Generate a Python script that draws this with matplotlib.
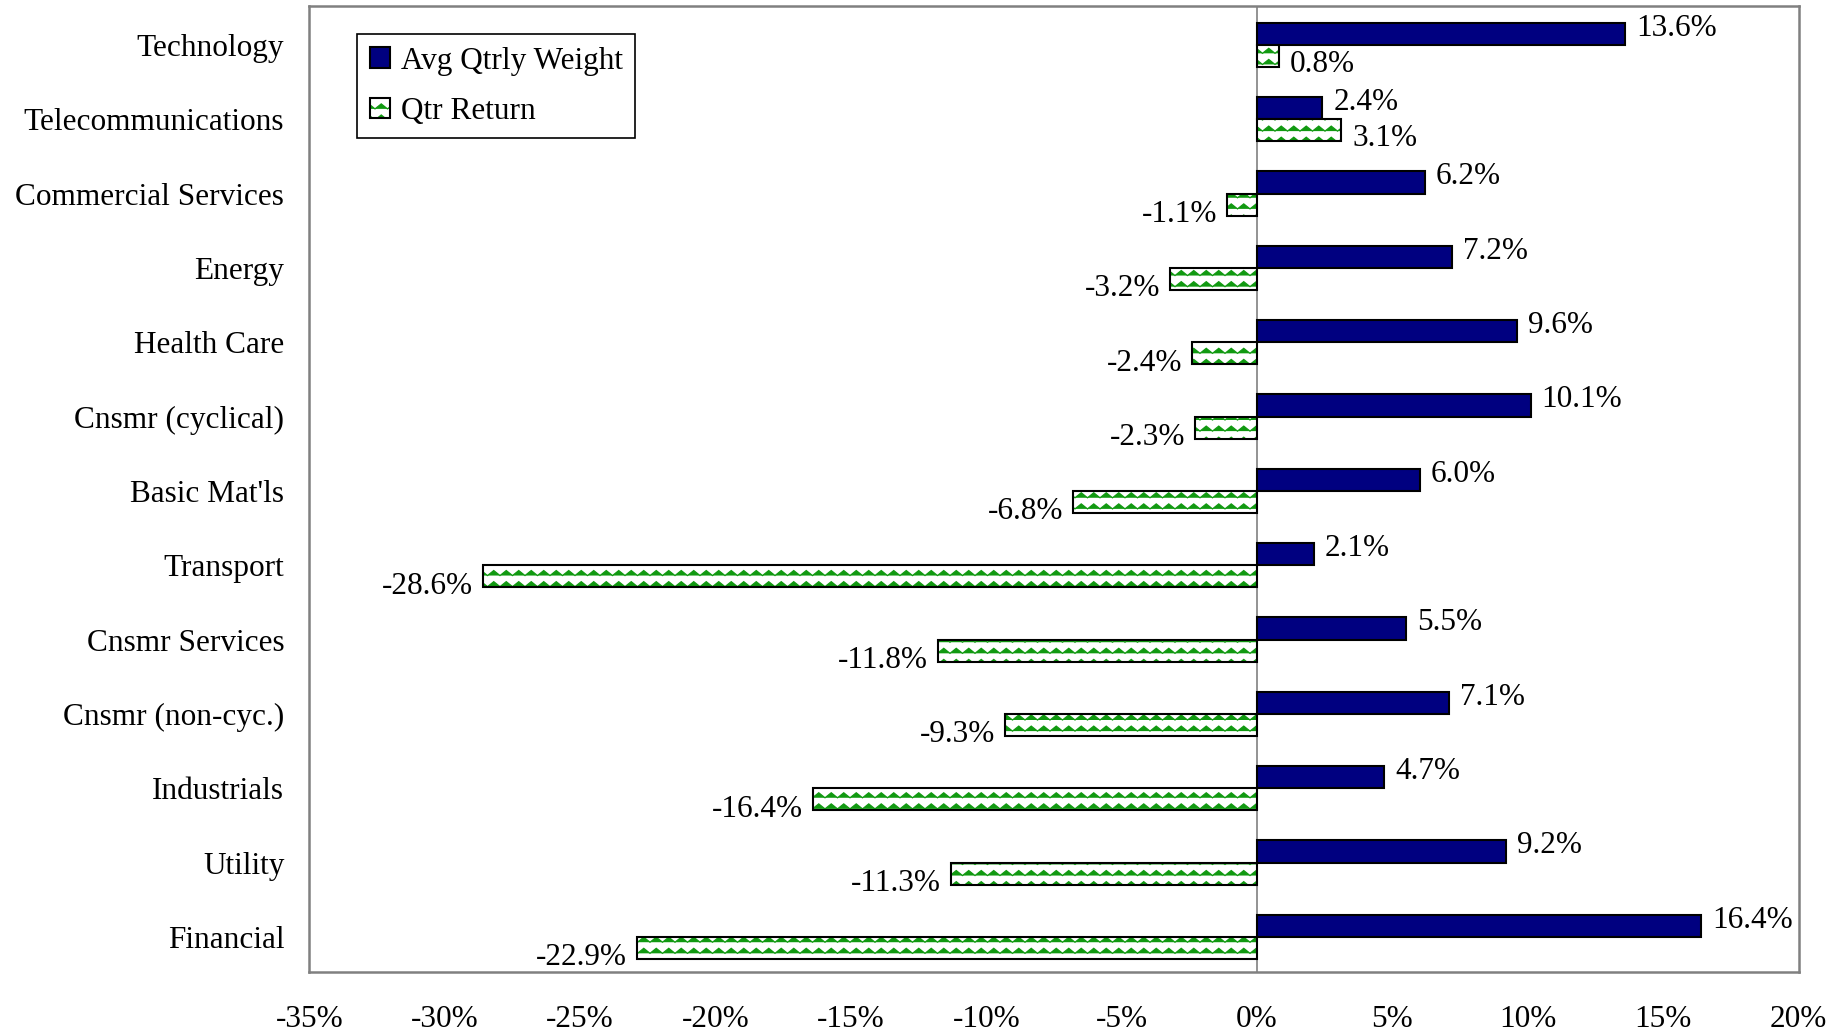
import warnings
import numpy as np
import matplotlib
matplotlib.use("Agg")
import matplotlib.pyplot as plt
import matplotlib.hatch as mhatch
from matplotlib.path import Path
from matplotlib.patches import Patch
from matplotlib.legend_handler import HandlerTuple

warnings.filterwarnings("ignore")

# data (top to bottom)
sectors = ["Technology", "Telecommunications", "Commercial Services", "Energy",
           "Health Care", "Cnsmr (cyclical)", "Basic Mat'ls", "Transport",
           "Cnsmr Services", "Cnsmr (non-cyc.)", "Industrials", "Utility", "Financial"]
avg_weight = [13.6, 2.4, 6.2, 7.2, 9.6, 10.1, 6.0, 2.1, 5.5, 7.1, 4.7, 9.2, 16.4]
qtr_return = [0.8, 3.1, -1.1, -3.2, -2.4, -2.3, -6.8, -28.6, -11.8, -9.3, -16.4, -11.3, -22.9]
xticks = [-35, -30, -25, -20, -15, -10, -5, 0, 5, 10, 15, 20]


# zigzag hatch like the old excel pattern
class ZigZagHatch(mhatch.HatchPatternBase):
    def __init__(self, hatch, density):
        self.num_rows = 9 if 'z' in hatch else 0
        self.num_teeth = 8
        self.num_vertices = self.num_rows * (2 * self.num_teeth + 1)

    def set_vertices_and_codes(self, vertices, codes):
        k = 2 * self.num_teeth + 1
        xs = np.linspace(0, 1, k)
        for r in range(self.num_rows):
            y0 = (r + 0.2) / self.num_rows
            vertices[r*k:(r+1)*k, 0] = xs
            vertices[r*k:(r+1)*k, 1] = y0 + 0.05 * (np.arange(k) % 2)
            codes[r*k] = Path.MOVETO
            codes[r*k+1:(r+1)*k] = Path.LINETO


mhatch._hatch_types.append(ZigZagHatch)

plt.rcParams['font.family'] = ['Liberation Serif', 'DejaVu Serif']
plt.rcParams['hatch.linewidth'] = 0.9

NAVY = '#000080'
GREEN = '#119911'
FS = 22.5

fig = plt.figure(figsize=(18.41, 10.36), dpi=100)
ax = fig.add_axes([0.168, 0.062, 0.809, 0.932])

n = len(sectors)
y = np.arange(n)[::-1]
h = 0.3

ax.barh(y + h/2, avg_weight, height=h, color=NAVY, edgecolor='black', linewidth=1.5)
ax.barh(y - h/2, qtr_return, height=h, color='white', edgecolor=GREEN, linewidth=0, hatch='z')
ax.barh(y - h/2, qtr_return, height=h, fill=False, edgecolor='black', linewidth=1.5)

# data labels
for yi, v in zip(y, avg_weight):
    ax.annotate(f"{v:.1f}%", (v, yi + h/2), xytext=(8, 4), textcoords='offset points',
                ha='left', va='center', fontsize=FS)
for yi, v in zip(y, qtr_return):
    if v >= 0:
        ax.annotate(f"{v:.1f}%", (v, yi - h/2), xytext=(8, -6), textcoords='offset points',
                    ha='left', va='center', fontsize=FS)
    else:
        ax.annotate(f"{v:.1f}%", (v, yi - h/2), xytext=(-7, -7), textcoords='offset points',
                    ha='right', va='center', fontsize=FS)

ax.axvline(0, color='#808080', linewidth=1.2, zorder=0.5)

ax.set_xlim(-35, 20)
ax.set_ylim(-0.47, n - 0.48)
ax.set_xticks(xticks)
ax.set_xticklabels([f"{t}%" for t in xticks], fontsize=FS)
ax.set_yticks(y)
ax.set_yticklabels(sectors, fontsize=FS)
ax.tick_params(axis='x', length=0, pad=24)
ax.tick_params(axis='y', length=0, pad=18)
for s in ax.spines.values():
    s.set_color('#808080')
    s.set_linewidth(1.8)

ret_handle = (Patch(facecolor='white', edgecolor=GREEN, linewidth=0, hatch='z'),
              Patch(fill=False, edgecolor='black', linewidth=1.5))
leg = ax.legend([Patch(facecolor=NAVY, edgecolor='black', linewidth=1.5), ret_handle],
                ["Avg Qtrly Weight", "Qtr Return"],
                handler_map={tuple: HandlerTuple(ndivide=1)},
                loc='upper left', bbox_to_anchor=(0.194, 0.967), bbox_transform=fig.transFigure,
                fontsize=FS, frameon=True, fancybox=False, framealpha=1,
                edgecolor='black', handlelength=0.65, handleheight=0.65,
                handletextpad=0.35, borderpad=0.4, labelspacing=0.68, borderaxespad=0)
leg.get_frame().set_linewidth(1.2)

fig.savefig("out.png", dpi=100)
